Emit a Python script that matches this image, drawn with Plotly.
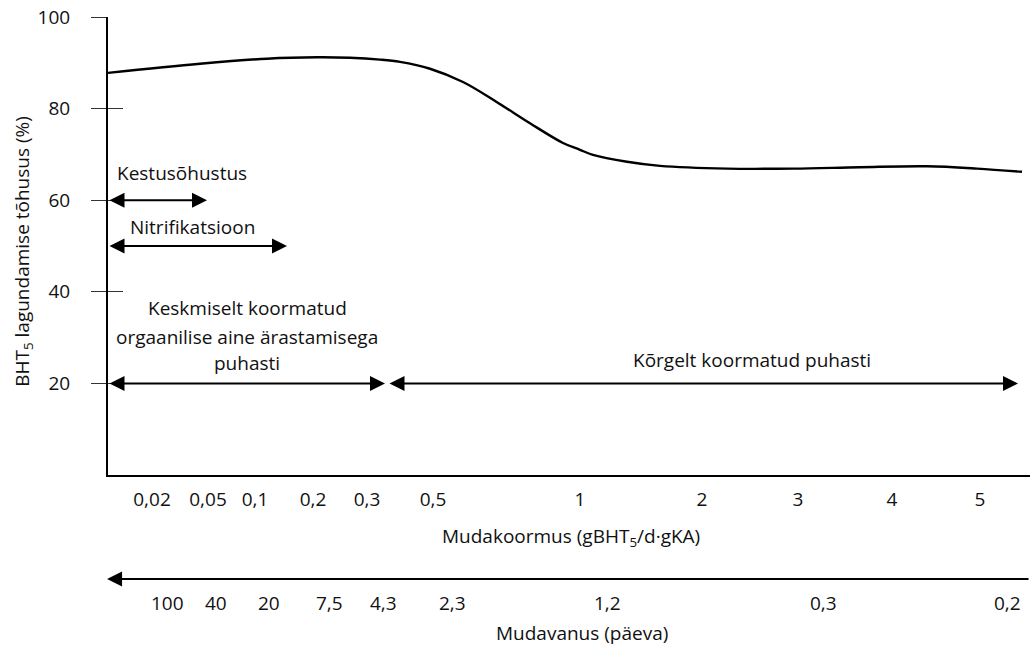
import plotly.graph_objects as go

# ---- data ----
# horizontal position along the (non-linear) sludge-load axis, position units
curve_pos = [0, 92, 159, 209, 242, 272, 292, 322, 355, 389, 422, 455, 472, 485,
             519, 552, 619, 685, 752, 819, 869, 914]
curve_eff = [87.8, 89.8, 90.9, 91.2, 91.1, 90.7, 90.2, 88.7, 85.8, 81.4, 76.8,
             72.5, 71.0, 69.9, 68.4, 67.5, 66.9, 66.9, 67.2, 67.4, 66.9, 66.2]

load_pos = [44, 100, 147, 205, 259, 325, 472, 594, 690, 784, 872]
load_labels = ["0,02", "0,05", "0,1", "0,2", "0,3", "0,5", "1", "2", "3", "4", "5"]

age_pos = [59, 108, 161, 221, 275, 344, 499, 715, 899]
age_labels = ["100", "40", "20", "7,5", "4,3", "2,3", "1,2", "0,3", "0,2"]

y_ticks = [20, 40, 60, 80, 100]

# ranges (start, end, level) of process arrows
ranges = [
    ("Kestusõhustus", 0, 99, 60),
    ("Nitrifikatsioon", 0, 179, 50),
    ("mid", 0, 277, 20),
    ("high", 280, 910, 20),
]

FONT = "Open Sans"
FS = 19
TXT = "#111111"
BLACK = "#000000"

TOP, BOT = 17, 475          # plot area pixel rows
def pay(p):                  # pixel row -> paper y
    return (BOT - p) / (BOT - TOP)

fig = go.Figure()
fig.add_trace(go.Scatter(x=curve_pos, y=curve_eff, mode="lines",
                         line=dict(color=BLACK, width=2.4, shape="spline", smoothing=1.0),
                         hoverinfo="skip", showlegend=False))
# dummy trace for the second y axis (inside ticks -> crossing tick marks)
fig.add_trace(go.Scatter(x=[None], y=[None], yaxis="y2", showlegend=False))

fig.update_layout(
    width=1030, height=647,
    margin=dict(l=108, r=0, t=TOP, b=647 - BOT),
    paper_bgcolor="white", plot_bgcolor="white",
    font=dict(family=FONT, size=FS, color=TXT),
    showlegend=False,
    xaxis=dict(range=[0, 922], showgrid=False, zeroline=False,
               showline=True, linecolor=BLACK, linewidth=2,
               tickmode="array", tickvals=load_pos, ticktext=load_labels,
               ticks="", ticklabelstandoff=6,
               tickfont=dict(family=FONT, size=FS, color=TXT)),
    yaxis=dict(range=[0, 100], showgrid=False, zeroline=False,
               showline=True, linecolor=BLACK, linewidth=2,
               tickmode="array", tickvals=y_ticks,
               ticks="outside", ticklen=15, tickwidth=1, tickcolor="#333333",
               ticklabelstandoff=17,
               tickfont=dict(family=FONT, size=FS, color=TXT)),
    yaxis2=dict(range=[0, 100], overlaying="y", side="left", showgrid=False,
                zeroline=False, showline=False, tickmode="array", tickvals=y_ticks,
                ticks="inside", ticklen=15, tickwidth=1, tickcolor="#333333",
                showticklabels=False),
)

ann = []
AS = 1.5
# process arrows
for name, x0, x1, lvl in ranges:
    ann.append(dict(x=x1, y=lvl, ax=x0, ay=lvl, xref="x", yref="y", axref="x", ayref="y",
                    text="", showarrow=True, arrowhead=2, arrowsize=AS, arrowwidth=2,
                    arrowcolor=BLACK, arrowside="end+start", startarrowhead=2,
                    startarrowsize=AS))
# bottom sludge-age arrow (points left)
ann.append(dict(x=-0.001, y=pay(579), xref="paper", yref="paper", ax=925, ay=0,
                axref="pixel", ayref="pixel",
                text="", showarrow=True, arrowhead=2, arrowsize=AS, arrowwidth=2,
                arrowcolor=BLACK))

def txt(x, y, t, xref="x", yref="y", **kw):
    d = dict(x=x, y=y, xref=xref, yref=yref, text=t, showarrow=False,
             xanchor="center", yanchor="middle",
             font=dict(family=FONT, size=FS, color=TXT))
    d.update(kw)
    ann.append(d)

txt(74, 65.9, "Kestusõhustus")
txt(84, 54.1, "Nitrifikatsioon")
txt(139, 36.4, "Keskmiselt koormatud")
txt(139, 30.1, "orgaanilise aine ärastamisega")
txt(139, 24.4, "puhasti")
txt(644, 25.1, "Kõrgelt koormatud puhasti")

for p, lab in zip(age_pos, age_labels):
    txt(p, pay(603), lab, yref="paper")

txt(463, pay(536.5), "Mudakoormus (gBHT<sub>5</sub>/d·gKA)", yref="paper")
txt(474, pay(633), "Mudavanus (päeva)", yref="paper")

txt(-0.093, 48.8, "BHT<sub>5</sub> lagundamise tõhusus (%)", xref="paper", textangle=-90)

fig.update_layout(annotations=ann)
fig.write_html("out.html")
